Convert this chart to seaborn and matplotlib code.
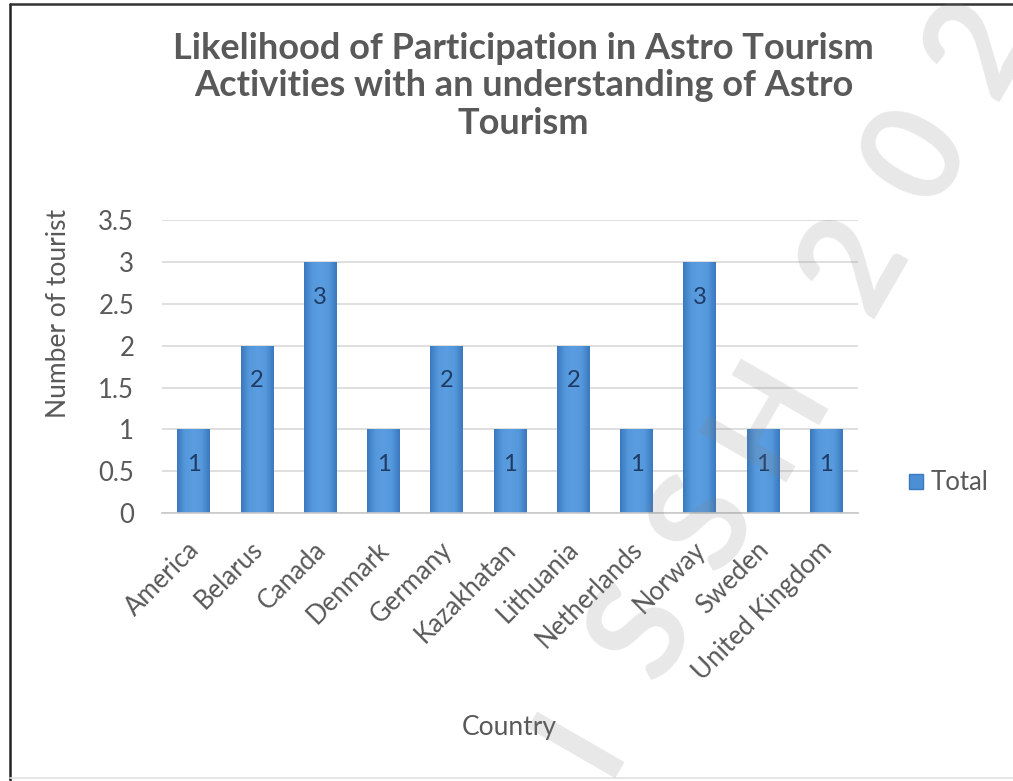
import matplotlib
matplotlib.use("Agg")
import matplotlib.pyplot as plt
import matplotlib.transforms as mtransforms
import seaborn as sns
import pandas as pd
import numpy as np
from matplotlib.patches import Rectangle
from matplotlib.lines import Line2D
from matplotlib.colors import LinearSegmentedColormap

countries = ["America", "Belarus", "Canada", "Denmark", "Germany", "Kazakhatan",
             "Lithuania", "Netherlands", "Norway", "Sweden", "United Kingdom"]
totals = [1, 2, 3, 1, 2, 1, 2, 1, 3, 1, 1]
y_ticks = [0, 0.5, 1, 1.5, 2, 2.5, 3, 3.5]
y_tick_labels = ["0", "0.5", "1", "1.5", "2", "2.5", "3", "3.5"]
title_text = ("Likelihood of Participation in Astro Tourism\n"
              "Activities with an understanding of Astro\nTourism")
watermark = "ISSH 202"

df = pd.DataFrame({"Country": countries, "Total": totals})

sns.set_theme(style="white")
plt.rcParams["font.family"] = ["Lato", "DejaVu Sans"]

text_gray = "#595959"
bar_blue = "#4d8fd4"
W, H = 1013, 781

fig = plt.figure(figsize=(W / 100, H / 100), dpi=100)
ax = fig.add_axes([0.160, 0.343, 0.687, 0.375])

sns.barplot(data=df, x="Country", y="Total", color=bar_blue, width=0.52,
            saturation=1, linewidth=0, ax=ax)

# Soft horizontal shading on each bar, clipped to the bar rectangle
shade = LinearSegmentedColormap.from_list(
    "barshade", ["#3b78bf", "#5599dc", "#5a9de0", "#5599dc", "#3b78bf"])
grad = np.linspace(0, 1, 64).reshape(1, -1)
for patch in list(ax.patches):
    x0, y0 = patch.get_x(), patch.get_y()
    w, h = patch.get_width(), patch.get_height()
    im = ax.imshow(grad, cmap=shade, aspect="auto",
                   extent=(x0, x0 + w, y0, y0 + h), zorder=2,
                   interpolation="bicubic")
    im.set_clip_path(patch)

for i, v in enumerate(totals):
    ax.text(i, v - 0.42, str(v), ha="center", va="center",
            fontsize=17, color="#1f3b63", zorder=4)

ax.set_ylim(0, 3.5)
ax.set_xlim(-0.5, len(countries) - 0.5)
ax.set_yticks(y_ticks)
ax.set_yticklabels(y_tick_labels, fontsize=18.5, color=text_gray)
ax.tick_params(axis="y", length=0, pad=20)
ax.tick_params(axis="x", length=0, pad=17)
ax.set_xticks(range(len(countries)))
ax.set_xticklabels(countries, rotation=45, ha="right", rotation_mode="anchor",
                   fontsize=18.5, color=text_gray)
shift = mtransforms.ScaledTranslation(-7 / 100, 0, fig.dpi_scale_trans)
for lbl in ax.get_xticklabels():
    lbl.set_transform(lbl.get_transform() + shift)
ax.yaxis.grid(True, color="#d9d9d9", linewidth=1.2)
ax.set_axisbelow(True)
for s in ["top", "right", "left"]:
    ax.spines[s].set_visible(False)
ax.spines["bottom"].set_color("#c8c8c8")
ax.spines["bottom"].set_linewidth(1.2)

ax.set_ylabel("Number of tourist", fontsize=19, color=text_gray)
ax.yaxis.set_label_coords(-0.131, 0.683)
ax.set_xlabel("")
fig.text(509 / W, 1 - 727 / H, "Country", ha="center", va="center",
         fontsize=19, color=text_gray)

# Legend
handle = Rectangle((0, 0), 1, 1, facecolor=bar_blue, edgecolor="#3b78bf")
fig.legend([handle], ["Total"], loc="center left",
           bbox_to_anchor=(886 / W, 1 - 483 / H),
           frameon=False, fontsize=18.5, handlelength=0.55, handleheight=0.55,
           handletextpad=0.3, labelcolor=text_gray)

# Title
fig.text(0.517, 1 - 86 / H, title_text, ha="center", va="center",
         fontsize=26, fontweight="bold", color=text_gray, linespacing=1.18)

# Faint diagonal watermark, one glyph at a time along a line
angle = 60
ux, uy = np.cos(np.radians(angle)), -np.sin(np.radians(angle))
start_x, start_y, step = 580, 740, 125
pos = 0.0
for ch in watermark:
    if ch == " ":
        pos += 0.4
        continue
    px, py = start_x + ux * step * pos, start_y + uy * step * pos
    fig.text(px / W, 1 - py / H, ch, fontsize=100, fontweight="bold",
             color="#808080", alpha=0.18, rotation=angle,
             ha="center", va="center", zorder=10)
    pos += 1.0

# Frame: dark left and top edges, faint bottom edge
fig.add_artist(Line2D([10 / W, 10 / W], [0, 1 - 4 / H], transform=fig.transFigure,
                      color="#222222", linewidth=1.8))
fig.add_artist(Line2D([10 / W, 1], [1 - 4 / H, 1 - 4 / H], transform=fig.transFigure,
                      color="#333333", linewidth=1.8))
fig.add_artist(Line2D([10 / W, 1], [3 / H, 3 / H], transform=fig.transFigure,
                      color="#e2e2e2", linewidth=1.2))

fig.savefig("out.png", dpi=100, facecolor="white")
